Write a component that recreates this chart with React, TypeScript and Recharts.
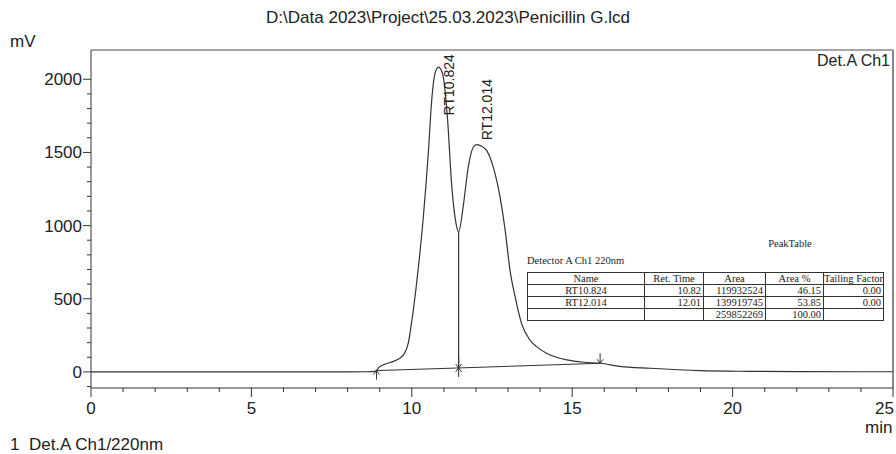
import React from 'react';
import { ComposedChart, Line, Scatter, XAxis, YAxis, ReferenceLine } from 'recharts';

// chromatogram trace (min, mV)
const times = [0, 2, 4, 6, 8, 8.6, 8.85, 9.0, 9.2, 9.41, 9.6, 9.74, 9.89, 9.99, 10.15, 10.36, 10.52, 10.62, 10.72, 10.83, 10.96, 11.11, 11.24, 11.38, 11.46, 11.6, 11.76, 11.92, 12.02, 12.15, 12.33, 12.54, 12.75, 12.91, 13.06, 13.22, 13.42, 13.68, 13.89, 14.2, 14.51, 14.83, 15.35, 15.87, 16.49, 17.43, 18.98, 20.5, 22, 25];
const signal = [0, 0, 0, 0, 0, 1, 3, 36, 56, 70, 90, 116, 196, 332, 607, 1060, 1514, 1855, 2037, 2083, 2037, 1741, 1287, 1014, 957, 1128, 1400, 1537, 1553, 1545, 1514, 1400, 1196, 969, 696, 514, 332, 218, 173, 128, 100, 82, 66, 59, 38, 25, 9, 4, 2, 1];

// integration baseline and the drop line at the valley
const baseTimes = [8.9, 11.46, 15.87];
const baseValues = [9, 27, 59];
const dropTimes = [11.46, 11.46];
const dropValues = [27, 957];

// peak start/split/end markers
const markerTimes = [8.9, 11.46, 15.87];
const markerValues = [9, 27, 59];
const markerDirs = ['up', 'both', 'down'];

// peak names (vertical labels)
const peakNames = ['RT10.824', 'RT12.014'];
const peakTimes = [10.824, 12.014];
const peakLabelValues = [1753, 1583];

// peak table
const tableHeader = ['Name', 'Ret. Time', 'Area', 'Area %', 'Tailing Factor'];
const tableRows = [
  ['RT10.824', '10.82', '119932524', '46.15', '0.00'],
  ['RT12.014', '12.01', '139919745', '53.85', '0.00'],
  ['', '', '259852269', '100.00', ''],
];
const colWidths = [117, 59, 62, 58, 60];

const yTicks = Array.from({ length: 22 }, (_, i) => -100 + i * 100);
const xTicks = Array.from({ length: 26 }, (_, i) => i);

const trace = times.map((t, i) => ({ t, v: signal[i] }));
const baseline = baseTimes.map((t, i) => ({ t, v: baseValues[i] }));
const drop = dropTimes.map((t, i) => ({ t, v: dropValues[i] }));
const markers = markerTimes.map((t, i) => ({ t, v: markerValues[i], dir: markerDirs[i] }));
const peakLabels = peakTimes.map((t, i) => ({ t, v: peakLabelValues[i], name: peakNames[i] }));

const sans = 'Arial, "Liberation Sans", sans-serif';
const serif = '"Liberation Serif", "Times New Roman", serif';
const ink = '#333';

const YTick = (props: any) => {
  const { x, y, payload } = props;
  const v = payload.value;
  const major = v % 500 === 0;
  return (
    <g>
      <line x1={x - (major ? 8 : 4)} x2={x} y1={y} y2={y} stroke={ink} />
      {major && v >= 0 && (
        <text x={x - 9} y={y} dy={6} textAnchor="end" fontSize={17} fontFamily={sans} fill="#222">
          {v}
        </text>
      )}
    </g>
  );
};

const XTick = (props: any) => {
  const { x, y, payload } = props;
  const v = payload.value;
  const major = v % 5 === 0;
  const last = v === 25;
  return (
    <g>
      <line x1={x} x2={x} y1={y} y2={y + (major ? 9 : 4)} stroke={ink} />
      {major && (
        <text
          x={last ? x + 1 : x}
          y={y + 26}
          textAnchor={last ? 'end' : 'middle'}
          fontSize={17}
          fontFamily={sans}
          fill="#222"
        >
          {v}
        </text>
      )}
    </g>
  );
};

const Marker = (props: any) => {
  const { cx, cy, payload } = props;
  const up = payload.dir === 'up' || payload.dir === 'both';
  const down = payload.dir === 'down' || payload.dir === 'both';
  return (
    <g stroke={ink} strokeWidth={1} fill="none">
      {up && <line x1={cx} x2={cx} y1={cy} y2={cy + 9} />}
      {up && <polyline points={`${cx - 3},${cy + 4} ${cx},${cy} ${cx + 3},${cy + 4}`} />}
      {down && <line x1={cx} x2={cx} y1={cy - 10} y2={cy} />}
      {down && <polyline points={`${cx - 3},${cy - 4} ${cx},${cy} ${cx + 3},${cy - 4}`} />}
    </g>
  );
};

const PeakLabel = (props: any) => {
  const { cx, cy, payload } = props;
  return (
    <text
      transform={`translate(${cx + 16},${cy}) rotate(-90)`}
      fontSize={14}
      fontFamily={sans}
      fill="#222"
    >
      {payload.name}
    </text>
  );
};

const abs = (left: number, top: number, extra: React.CSSProperties = {}): React.CSSProperties => ({
  position: 'absolute',
  left,
  top,
  whiteSpace: 'nowrap',
  ...extra,
});

export default function App() {
  const cell: React.CSSProperties = {
    border: `1px solid ${ink}`,
    padding: '0 2px',
    height: 11,
    lineHeight: '11px',
    fontSize: 10.5,
    whiteSpace: 'nowrap',
    overflow: 'hidden',
  };
  return (
    <div style={{ position: 'absolute', left: 0, top: 0, width: 896, height: 454, background: '#fff' }}>
      <ComposedChart width={896} height={454} margin={{ top: 50, right: 3, bottom: 0, left: 0 }}>
        <XAxis
          dataKey="t"
          type="number"
          domain={[0, 25]}
          ticks={xTicks}
          interval={0}
          height={66}
          tickSize={0}
          tickMargin={0}
          tickLine={false}
          tick={<XTick />}
          axisLine={{ stroke: ink }}
          allowDataOverflow
        />
        <YAxis
          type="number"
          domain={[-110, 2200]}
          ticks={yTicks}
          interval={0}
          width={91}
          tickSize={0}
          tickMargin={0}
          tickLine={false}
          tick={<YTick />}
          axisLine={{ stroke: ink }}
          allowDataOverflow
        />
        <ReferenceLine y={2200} stroke="#888" strokeWidth={1.5} />
        <ReferenceLine x={25} stroke="#888" strokeWidth={2} />
        <Line data={trace} dataKey="v" type="monotone" stroke={ink} strokeWidth={1.2} dot={false} isAnimationActive={false} />
        <Line data={baseline} dataKey="v" type="linear" stroke={ink} strokeWidth={1} dot={false} isAnimationActive={false} />
        <Line data={drop} dataKey="v" type="linear" stroke={ink} strokeWidth={1.2} dot={false} isAnimationActive={false} />
        <Scatter data={markers} dataKey="v" shape={<Marker />} isAnimationActive={false} />
        <Scatter data={peakLabels} dataKey="v" shape={<PeakLabel />} isAnimationActive={false} />
      </ComposedChart>

      <div style={abs(0, 8, { width: 896, textAlign: 'center', fontFamily: sans, fontSize: 17, color: '#222' })}>
        D:\Data 2023\Project\25.03.2023\Penicillin G.lcd
      </div>
      <div style={abs(10, 32, { fontFamily: sans, fontSize: 17, color: '#222' })}>mV</div>
      <div style={abs(700, 52, { width: 190, textAlign: 'right', fontFamily: sans, fontSize: 16, color: '#222' })}>
        Det.A Ch1
      </div>
      <div style={abs(865, 418, { fontFamily: sans, fontSize: 17, color: '#222' })}>min</div>
      <div style={abs(10, 435, { fontFamily: sans, fontSize: 17, color: '#222' })}>1&nbsp; Det.A Ch1/220nm</div>

      <div style={abs(700, 238, { width: 180, textAlign: 'center', fontFamily: serif, fontSize: 10.5, color: '#222' })}>
        PeakTable
      </div>
      <div style={abs(527, 255, { fontFamily: serif, fontSize: 10.5, color: '#222' })}>Detector A Ch1 220nm</div>
      <table
        style={{
          position: 'absolute',
          left: 527,
          top: 272,
          width: 356,
          borderCollapse: 'collapse',
          tableLayout: 'fixed',
          fontFamily: serif,
          color: '#222',
          background: '#fff',
        }}
      >
        <colgroup>
          {colWidths.map((w, i) => (
            <col key={i} style={{ width: w }} />
          ))}
        </colgroup>
        <tbody>
          <tr>
            {tableHeader.map((h, i) => (
              <td key={i} style={{ ...cell, textAlign: 'center', padding: i === 4 ? 0 : '0 2px' }}>
                {h}
              </td>
            ))}
          </tr>
          {tableRows.map((row, r) => (
            <tr key={r}>
              {row.map((c, i) => (
                <td key={i} style={{ ...cell, textAlign: i === 0 ? 'center' : 'right' }}>
                  {c}
                </td>
              ))}
            </tr>
          ))}
        </tbody>
      </table>
    </div>
  );
}
